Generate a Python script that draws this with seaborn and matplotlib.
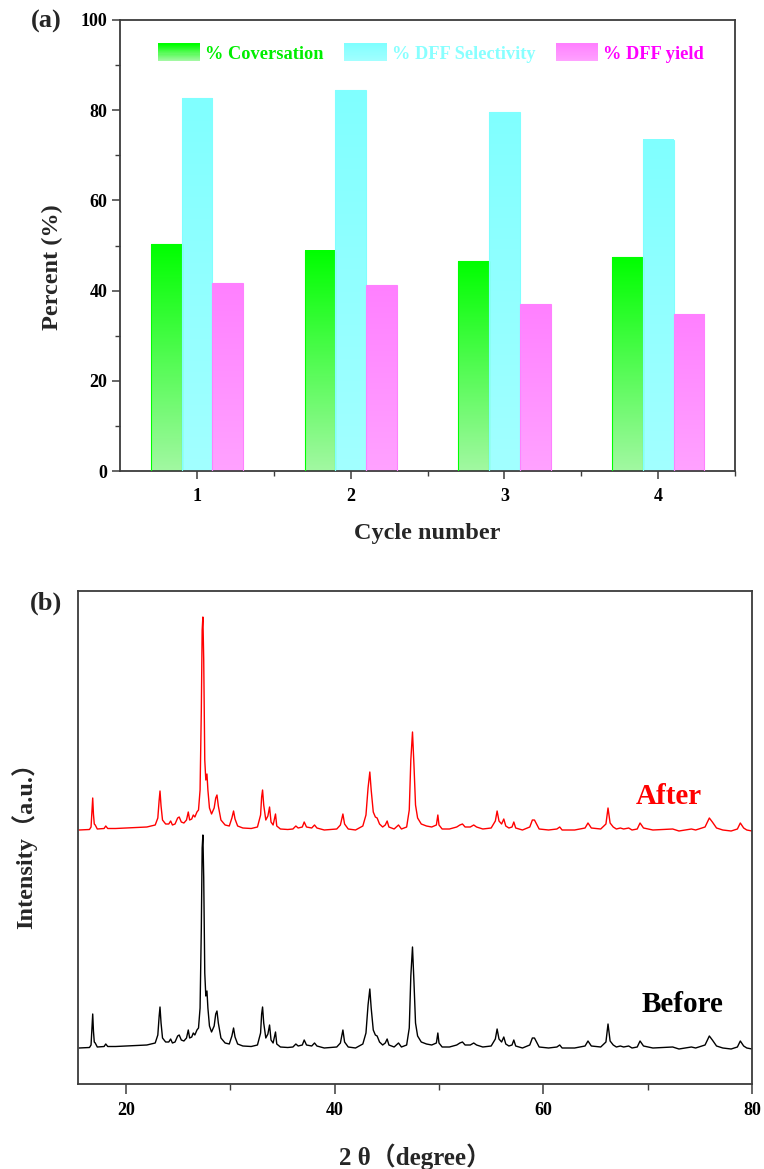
import numpy as np
import pandas as pd
import matplotlib
matplotlib.use("Agg")
import matplotlib.pyplot as plt
from matplotlib.patches import Rectangle
from matplotlib.legend_handler import HandlerBase
from matplotlib.colors import LinearSegmentedColormap
from matplotlib.ticker import FixedLocator
import seaborn as sns

# ---------------- (a) catalyst recycling ----------------
cycles = ["1", "2", "3", "4"]
conversion = [50.3, 48.8, 46.5, 47.4]
selectivity = [82.7, 84.4, 79.5, 73.4]
dff_yield = [41.6, 41.2, 37.0, 34.8]
series_labels = ["% Coversation", "% DFF Selectivity", "% DFF yield"]

# ---------------- (b) XRD patterns (counts above each baseline) ----------------
two_theta = [
    15.5, 16.5, 16.65, 16.74, 16.81, 16.88, 16.96, 17.05, 17.25, 17.9, 18.06, 18.25,
    19.0, 20.0, 21.0, 22.0, 22.8, 23.05, 23.18, 23.26, 23.36, 23.5, 23.8, 24.1,
    24.28, 24.45, 24.7, 24.95, 25.1, 25.3, 25.55, 25.8, 25.97, 26.1, 26.3, 26.45,
    26.6, 26.8, 26.95, 27.1, 27.22, 27.3, 27.37, 27.45, 27.55, 27.65, 27.76, 27.85,
    28.0, 28.2, 28.45, 28.6, 28.72, 28.85, 29.1, 29.5, 29.9, 30.15, 30.31, 30.45,
    30.7, 31.2, 32.0, 32.6, 32.9, 33.0, 33.09, 33.2, 33.4, 33.6, 33.76, 33.9,
    34.1, 34.33, 34.45, 34.8, 35.5, 36.0, 36.28, 36.5, 36.9, 37.08, 37.3, 37.8,
    38.07, 38.3, 39.0, 40.2, 40.55, 40.79, 40.95, 41.3, 42.0, 42.7, 43.0, 43.2,
    43.37, 43.5, 43.7, 43.9, 44.07, 44.3, 44.6, 44.85, 45.03, 45.2, 45.7, 46.12,
    46.4, 46.9, 47.15, 47.3, 47.46, 47.6, 47.75, 47.95, 48.3, 48.8, 49.3, 49.53,
    49.75, 49.89, 50.0, 50.3, 51.0, 51.7, 52.0, 52.25, 52.5, 53.0, 53.33, 53.6,
    54.2, 55.0, 55.4, 55.57, 55.75, 56.0, 56.21, 56.4, 56.7, 57.0, 57.17, 57.35,
    58.0, 58.7, 58.95, 59.15, 59.35, 59.6, 60.5, 61.3, 61.57, 61.8, 63.0, 64.0,
    64.28, 64.6, 65.5, 66.0, 66.2, 66.4, 66.7, 67.0, 67.38, 67.7, 68.18, 68.5,
    69.0, 69.27, 69.6, 70.5, 72.4, 73.0, 74.19, 74.6, 75.5, 75.91, 76.2, 76.6,
    77.2, 78.0, 78.6, 78.88, 79.2, 79.5, 80.0,
]
after_counts = [
    0, 0.5, 3, 20, 32, 16, 6, 5, 1, 1.5, 4, 1.5,
    1.5, 2, 2.5, 3, 5, 12, 30, 39, 24, 10, 6, 6,
    9, 5, 6, 12, 13, 8, 7, 10, 18, 10, 11, 15,
    13, 18, 20, 40, 120, 200, 213, 170, 70, 50, 56, 40,
    22, 16, 22, 32, 35, 24, 10, 5, 4, 12, 19, 11,
    4, 2, 1.5, 3, 15, 33, 40, 25, 10, 14, 23, 8,
    5, 16, 4, 1, 0.5, 1, 4, 2, 3, 8, 3, 2,
    5, 2, 0, 1, 5, 16, 6, 1, 0, 4, 15, 42,
    58, 40, 18, 13, 12, 6, 3, 5, 9, 3, 1, 5,
    1, 3, 20, 70, 98, 65, 25, 12, 6, 4, 3, 4,
    5, 15, 5, 1, 1, 3, 5, 6, 3, 3, 5, 3,
    1, 2, 9, 19, 9, 6, 11, 4, 2, 3, 8, 2,
    0, 3, 10, 10, 6, 1, 0, 1, 3, 0, 0, 2,
    7, 2, 1, 6, 22, 7, 3, 1, 2, 1, 2, 0,
    1, 7, 2, 0, 1, -1, 1, 0, 3, 12, 8, 2,
    0, -1, 1, 7, 2, 0, -1,
]
before_counts = [
    0, 0.5, 3, 21, 34, 17, 6, 5, 1, 1.5, 4, 1.5,
    1.5, 2, 2.5, 3, 5, 13, 32, 41, 25, 10, 6, 6,
    9, 5, 6, 12, 13, 8, 7, 10, 18, 10, 11, 15,
    13, 18, 20, 40, 120, 200, 213, 170, 75, 52, 57, 40,
    22, 16, 22, 34, 37, 25, 10, 5, 4, 12, 20, 11,
    4, 2, 1.5, 3, 15, 34, 41, 25, 10, 14, 23, 8,
    5, 16, 4, 1, 0.5, 1, 4, 2, 3, 8, 3, 2,
    5, 2, 0, 1, 5, 18, 6, 1, 0, 4, 15, 43,
    59, 40, 18, 13, 12, 6, 3, 5, 9, 3, 1, 5,
    1, 3, 20, 72, 101, 66, 25, 12, 6, 4, 3, 4,
    5, 15, 5, 1, 1, 3, 5, 6, 3, 3, 5, 3,
    1, 2, 9, 19, 9, 6, 11, 4, 2, 3, 8, 2,
    0, 3, 10, 10, 6, 1, 0, 1, 3, 0, 0, 2,
    7, 2, 1, 6, 24, 7, 3, 1, 2, 1, 2, 0,
    1, 7, 2, 0, 1, -1, 1, 0, 3, 12, 8, 2,
    0, -1, 1, 7, 2, 0, -1,
]

# stacking of the two patterns (vertical offsets, a.u.)
BEFORE_OFFSET = 36
AFTER_OFFSET = 254

# ---------------- style ----------------
sns.set_style("ticks")
plt.rcParams["font.family"] = ["Liberation Serif", "Noto Sans CJK SC"]
plt.rcParams["font.weight"] = "bold"
plt.rcParams["axes.labelweight"] = "bold"
plt.rcParams["axes.edgecolor"] = "#3c3c3c"
plt.rcParams["axes.linewidth"] = 1.3
plt.rcParams["xtick.color"] = "#3c3c3c"
plt.rcParams["ytick.color"] = "#3c3c3c"
plt.rcParams["xtick.labelcolor"] = "black"
plt.rcParams["ytick.labelcolor"] = "black"

tops = ["#00ff00", "#80ffff", "#ff80ff"]
bottoms = ["#a2f8a2", "#a2ffff", "#ffa2ff"]
text_colors = ["#00ee00", "#88ffff", "#ff00ff"]

W, H = 764, 1169
fig = plt.figure(figsize=(W / 100, H / 100), dpi=100)


def px_axes(left, top, right, bottom):
    return fig.add_axes([left / W, 1 - bottom / H, (right - left) / W, (bottom - top) / H])


ax1 = px_axes(120, 20, 735, 471)
ax2 = px_axes(78, 591, 752, 1084)

# ---------------- panel (a) ----------------
df = pd.DataFrame({
    "cycle": cycles * 3,
    "metric": [series_labels[0]] * 4 + [series_labels[1]] * 4 + [series_labels[2]] * 4,
    "value": conversion + selectivity + dff_yield,
})
sns.barplot(data=df, x="cycle", y="value", hue="metric", hue_order=series_labels,
            palette=tops, saturation=1, width=0.6, ax=ax1, legend=False,
            errorbar=None)

grad = np.linspace(1, 0, 256).reshape(-1, 1)
for cont, top_c, bot_c in zip(ax1.containers, tops, bottoms):
    cmap = LinearSegmentedColormap.from_list("bar", [bot_c, top_c])
    for bar in cont:
        x0, w, h = bar.get_x(), bar.get_width(), bar.get_height()
        ax1.imshow(grad, extent=(x0, x0 + w, 0, h), aspect="auto", cmap=cmap,
                   vmin=0, vmax=1, zorder=2, interpolation="bilinear")
        bar.set_facecolor("none")
        bar.set_edgecolor(top_c)
        bar.set_linewidth(0.8)
        bar.set_zorder(3)

ax1.set_xlim(-0.5, 3.5)
ax1.set_ylim(0, 100)
ax1.set_yticks([0, 20, 40, 60, 80, 100])
ax1.yaxis.set_minor_locator(FixedLocator([10, 30, 50, 70, 90]))
ax1.xaxis.set_minor_locator(FixedLocator([0.5, 1.5, 2.5, 3.5]))
ax1.tick_params(axis="both", which="major", direction="out", length=6, width=1.1,
                labelsize=13)
ax1.tick_params(axis="y", which="major", pad=3)
ax1.tick_params(axis="x", which="major", pad=6)
ax1.tick_params(axis="both", which="minor", direction="out", length=3.5, width=1.0)
for lab in ax1.get_xticklabels() + ax1.get_yticklabels():
    lab.set_fontweight("bold")
for s in ax1.spines.values():
    s.set_visible(True)

ax1.set_xlabel("Cycle number", fontsize=17.5, fontweight="bold")
ax1.set_ylabel("Percent (%)", fontsize=17.5, fontweight="bold")
ax1.xaxis.label.set_va("center")
ax1.xaxis.set_label_coords(0.5, (471 - 534) / 451)
ax1.yaxis.label.set_va("center")
ax1.yaxis.set_label_coords((52 - 120) / 615, (471 - 267) / 451)


class GradientPatch(HandlerBase):
    def __init__(self, top, bottom, n=16):
        super().__init__()
        self.top, self.bottom, self.n = top, bottom, n

    def create_artists(self, legend, orig_handle, xdescent, ydescent, width,
                       height, fontsize, trans):
        cmap = LinearSegmentedColormap.from_list("leg", [self.bottom, self.top])
        arts = []
        for i in range(self.n):
            y = -ydescent + height * i / self.n
            arts.append(Rectangle((-xdescent, y), width, height / self.n * 1.05,
                                  facecolor=cmap(i / (self.n - 1)), edgecolor="none",
                                  transform=trans))
        return arts


handles = [Rectangle((0, 0), 1, 1) for _ in series_labels]
leg = ax1.legend(handles, series_labels, ncol=3, loc="center left",
                 bbox_to_anchor=((158 - 120) / 615, (471 - 53) / 451),
                 frameon=False, handlelength=2.3, handleheight=1.12,
                 handletextpad=0.28, columnspacing=1.12, borderpad=0, borderaxespad=0,
                 handler_map={h: GradientPatch(t, b) for h, t, b in zip(handles, tops, bottoms)},
                 prop={"weight": "bold", "size": 13.2})
for txt, c in zip(leg.get_texts(), text_colors):
    txt.set_color(c)

# ---------------- panel (b) ----------------
xrd = pd.DataFrame({
    "two_theta": two_theta,
    "after": np.asarray(after_counts, dtype=float) + AFTER_OFFSET,
    "before": np.asarray(before_counts, dtype=float) + BEFORE_OFFSET,
})
sns.lineplot(data=xrd, x="two_theta", y="after", color="#ff0000", lw=1.0,
             estimator=None, sort=False, ax=ax2)
sns.lineplot(data=xrd, x="two_theta", y="before", color="black", lw=1.0,
             estimator=None, sort=False, ax=ax2)

ax2.set_xlim(15.4, 80)
ax2.set_ylim(0, 493)
ax2.set_yticks([])
ax2.set_xticks([20, 40, 60, 80])
ax2.xaxis.set_minor_locator(FixedLocator([30, 50, 70]))
ax2.tick_params(axis="x", which="major", direction="out", length=7, width=1.1,
                labelsize=13, pad=6)
ax2.tick_params(axis="x", which="minor", direction="out", length=4.5, width=1.0)
for lab in ax2.get_xticklabels():
    lab.set_fontweight("bold")
for s in ax2.spines.values():
    s.set_visible(True)

ax2.set_xlabel("2 θ（degree）", fontsize=18, fontweight="bold")
ax2.set_ylabel("Intensity（a.u.）", fontsize=17.5, fontweight="bold")
ax2.xaxis.label.set_va("center")
ax2.xaxis.set_label_coords(0.5, (1084 - 1157) / 493)
ax2.yaxis.label.set_va("center")
ax2.yaxis.set_label_coords((24 - 78) / 674, (1084 - 840) / 493)

ax2.text(72.0, 287, "After", color="#ff0000", fontsize=21, fontweight="bold",
         ha="center", va="center")
ax2.text(73.3, 79, "Before", color="black", fontsize=21, fontweight="bold",
         ha="center", va="center")

fig.text(46 / W, 1 - 21 / H, "(a)", fontsize=19, fontweight="bold", ha="center", va="center")
fig.text(46 / W, 1 - 603 / H, "(b)", fontsize=19, fontweight="bold", ha="center", va="center")

fig.savefig("out.png", dpi=100, facecolor="white")
